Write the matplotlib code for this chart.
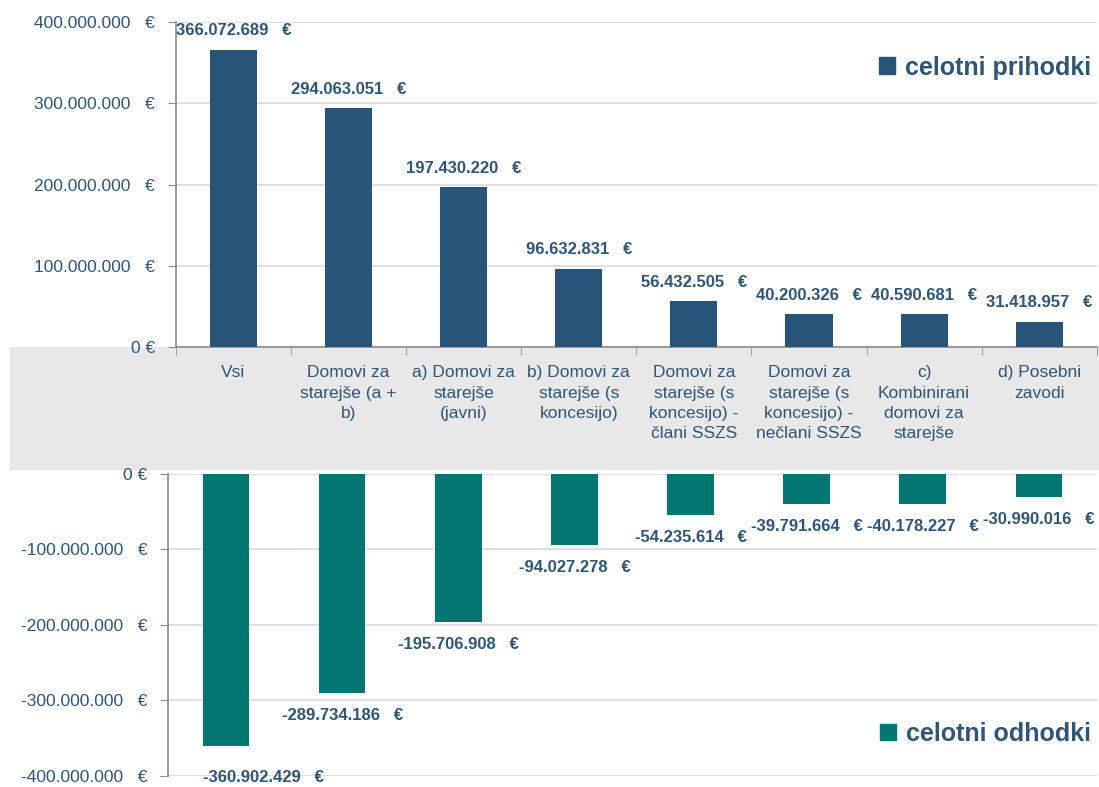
import matplotlib.pyplot as plt
from matplotlib.patches import Rectangle, Patch
from matplotlib.ticker import FuncFormatter

plt.rcParams['font.family'] = ['Liberation Sans', 'DejaVu Sans']

# Data
categories = [
    "Vsi",
    "Domovi za\nstarejše (a +\nb)",
    "a) Domovi za\nstarejše\n(javni)",
    "b) Domovi za\nstarejše (s\nkoncesijo)",
    "Domovi za\nstarejše (s\nkoncesijo) -\nčlani SSZS",
    "Domovi za\nstarejše (s\nkoncesijo) -\nnečlani SSZS",
    "c)\nKombinirani\ndomovi za\nstarejše",
    "d) Posebni\nzavodi",
]
prihodki = [366072689, 294063051, 197430220, 96632831, 56432505, 40200326, 40590681, 31418957]
odhodki = [-360902429, -289734186, -195706908, -94027278, -54235614, -39791664, -40178227, -30990016]

col_top = '#27557a'
col_bot = '#047672'
txt_col = '#2f5577'
grid_col = '#d9d9d9'
spine_col = '#8c8c8c'


def eur(v):
    if v == 0:
        return "0 €"
    return f"{int(v):,}".replace(",", ".") + "   €"


fig = plt.figure(figsize=(10.99, 7.87), dpi=100)

# gray band behind category labels
fig.patches.append(Rectangle((0.009, 0.403), 0.991, 0.156, transform=fig.transFigure,
                             facecolor='#e8e8e8', edgecolor='none', zorder=-1))

x = list(range(len(categories)))

# Top: celotni prihodki
ax1 = fig.add_axes([0.160, 0.559, 0.838, 0.413])
ax1.set_facecolor('none')
ax1.bar(x, prihodki, width=0.41, color=col_top, zorder=3)
ax1.set_xlim(-0.5, len(categories) - 0.5)
ax1.set_ylim(0, 400000000)
ax1.set_yticks(range(0, 400000001, 100000000))
ax1.yaxis.set_major_formatter(FuncFormatter(lambda v, p: eur(v)))
ax1.set_xticks(x)
ax1.set_xticklabels(categories, fontsize=12.5, color=txt_col, linespacing=1.45)
ax1.set_xticks([i - 0.5 for i in range(len(categories) + 1)], minor=True)
ax1.tick_params(axis='x', which='major', length=0, pad=13)
ax1.tick_params(axis='x', which='minor', length=6, color=spine_col, direction='out')
ax1.tick_params(axis='y', length=6, color=spine_col, labelsize=12.5, labelcolor=txt_col, pad=9)
ax1.grid(axis='y', color=grid_col, linewidth=1.2, zorder=0)
for s in ['top', 'right']:
    ax1.spines[s].set_visible(False)
for s in ['left', 'bottom']:
    ax1.spines[s].set_color(spine_col)
    ax1.spines[s].set_linewidth(1.2)
for xi, v in zip(x, prihodki):
    ax1.annotate(eur(v), (xi, v), xytext=(0, 8), textcoords='offset points',
                 ha='center', va='bottom', fontsize=12, fontweight='bold', color=txt_col)
ax1.legend(handles=[Patch(color=col_top, label='celotni prihodki')], loc='center right',
           bbox_to_anchor=(1.018, 0.86), frameon=False, handlelength=0.65, handleheight=0.65,
           handletextpad=0.4, prop={'size': 18, 'weight': 'bold'}, labelcolor=txt_col)

# Bottom: celotni odhodki
ax2 = fig.add_axes([0.153, 0.014, 0.845, 0.384])
ax2.set_facecolor('none')
ax2.bar(x, odhodki, width=0.40, color=col_bot, zorder=3)
ax2.set_xlim(-0.5, len(categories) - 0.5)
ax2.set_ylim(-400000000, 0)
ax2.set_yticks(range(-400000000, 1, 100000000))
ax2.yaxis.set_major_formatter(FuncFormatter(lambda v, p: eur(v)))
ax2.set_xticks([])
ax2.tick_params(axis='y', length=6, color=spine_col, labelsize=12.5, labelcolor=txt_col, pad=9)
ax2.grid(axis='y', color=grid_col, linewidth=1.2, zorder=0)
for s in ['top', 'right', 'bottom']:
    ax2.spines[s].set_visible(False)
ax2.spines['left'].set_color(spine_col)
ax2.spines['left'].set_linewidth(1.2)
for xi, v in zip(x, odhodki):
    dx, dy = (27, -17) if xi == 0 else (0, -11)
    ax2.annotate(eur(v), (xi, v), xytext=(dx, dy), textcoords='offset points',
                 ha='center', va='top', fontsize=12, fontweight='bold', color=txt_col,
                 annotation_clip=False)
ax2.legend(handles=[Patch(color=col_bot, label='celotni odhodki')], loc='center right',
           bbox_to_anchor=(1.018, 0.14), frameon=False, handlelength=0.65, handleheight=0.65,
           handletextpad=0.4, prop={'size': 18, 'weight': 'bold'}, labelcolor=txt_col)

fig.savefig('out.png', dpi=100)
